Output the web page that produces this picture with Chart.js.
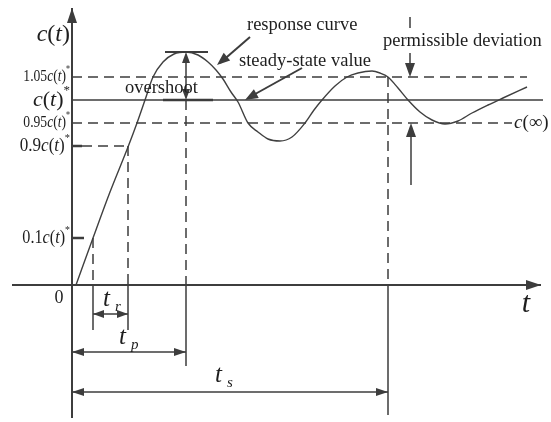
<!DOCTYPE html>
<html lang="en">
<head>
<meta charset="UTF-8">
<title>Step response</title>
<script src="https://cdn.jsdelivr.net/npm/chart.js"></script>
<style>
  html, body { margin: 0; padding: 0; background: #fff; }
  #wrap { width: 551px; height: 422px; }
</style>
</head>
<body>
<div id="wrap"><canvas id="stepChart" width="551" height="422"></canvas></div>
<script>
// response curve (t from the origin, c in diagram units, c* = 185)
const curveT = [4, 21, 38, 56, 65, 73, 81, 91, 102, 114, 126, 136, 144, 151, 159, 166, 176, 186, 196, 208, 220, 233, 242, 250, 263, 275, 286, 300, 308, 316, 326, 336, 348, 360, 373, 386, 400, 416, 431, 455];
const curveC = [0, 47, 93, 138, 162, 185, 208, 223, 231, 233, 230, 223, 215, 206, 193, 183, 162, 153, 146, 144, 148, 162, 175, 185, 199, 208, 212, 214, 212, 208, 197, 185, 173, 165, 161, 164, 172, 180, 187, 198];

// levels on the c axis and their labels
const levelValues = [208, 185, 162, 139, 47];
const levelCoef = ['1.05', '', '0.95', '0.9', '0.1'];

// characteristic times
const riseStart = 21;
const riseEnd = 56;
const peakTime = 114;
const settleTime = 316;
const peakValue = 233;

const ink = '#3d3d3d';
const textInk = '#1e1e1e';
const serif = '"Liberation Serif", "Times New Roman", serif';

function seg(x0, y0, x1, y1) { return [{x: x0, y: y0}, {x: x1, y: y1}]; }
function lineSet(data, extra) {
    return Object.assign({data: data, showLine: true, borderColor: ink, borderWidth: 1.5,
        pointRadius: 0, fill: false}, extra || {});
}
const dash = {borderDash: [10, 6], borderWidth: 1.5};

const steady = levelValues[1], upper = levelValues[0], lower = levelValues[2];

const datasets = [
    // axes
    lineSet(seg(-60, 0, 469, 0), {borderWidth: 2}),
    lineSet(seg(0, -133, 0, 277), {borderWidth: 2}),
    // steady-state and band
    lineSet(seg(0, steady, 471, steady)),
    lineSet(seg(91, steady, 141, steady), {borderWidth: 2.5}),
    lineSet(seg(0, upper, 455, upper), dash),
    lineSet(seg(0, lower, 440, lower), dash),
    lineSet(seg(10, levelValues[3], riseEnd, levelValues[3]), dash),
    lineSet(seg(0, levelValues[3], 10, levelValues[3]), {borderWidth: 2.5}),
    lineSet(seg(0, levelValues[4], 12, levelValues[4]), {borderWidth: 2.5}),
    // dashed verticals
    lineSet(seg(riseStart, levelValues[4], riseStart, 0), dash),
    lineSet(seg(riseEnd, levelValues[3], riseEnd, 0), dash),
    lineSet(seg(peakTime, steady, peakTime, 0), dash),
    lineSet(seg(settleTime, upper, settleTime, 0), dash),
    // extension lines under the t axis
    lineSet(seg(riseStart, 0, riseStart, -45)),
    lineSet(seg(riseEnd, 0, riseEnd, -45)),
    lineSet(seg(peakTime, 0, peakTime, -81)),
    lineSet(seg(settleTime, 0, settleTime, -130)),
    // peak mark and overshoot
    lineSet(seg(93, peakValue, 136, peakValue), {borderWidth: 2}),
    lineSet(seg(peakTime, peakValue - 4, peakTime, steady + 4)),
    // dimension lines
    lineSet(seg(riseStart, -29, riseEnd, -29)),
    lineSet(seg(0, -67, peakTime, -67)),
    lineSet(seg(0, -107, settleTime, -107)),
    // pointers
    lineSet(seg(178, 248, 148, 222), {borderWidth: 2}),
    lineSet(seg(230, 217, 176, 187), {borderWidth: 2}),
    // permissible deviation arrows
    lineSet(seg(338, 268, 338, 257)),
    lineSet(seg(338, 232, 338, 212)),
    lineSet(seg(339, 100, 339, 158)),
    // response curve
    {data: curveT.map((t, i) => ({x: t, y: curveC[i]})), showLine: true, borderColor: '#404040',
        borderWidth: 1.4, pointRadius: 0, fill: false, cubicInterpolationMode: 'monotone'}
];

// arrow heads: [fromX, fromY, tipX, tipY, length, halfWidth]
const heads = [
    [0, 200, 0, 277, 15, 5],
    [400, 0, 469, 0, 15, 5],
    [peakTime, steady, peakTime, peakValue, 11, 4],
    [peakTime, peakValue, peakTime, steady, 11, 4],
    [riseEnd, -29, riseStart, -29, 11, 4],
    [riseStart, -29, riseEnd, -29, 11, 4],
    [peakTime, -67, 0, -67, 12, 4],
    [0, -67, peakTime, -67, 12, 4],
    [settleTime, -107, 0, -107, 12, 4],
    [0, -107, settleTime, -107, 12, 4],
    [178, 248, 145, 220, 13, 5],
    [230, 217, 173, 185, 13, 5],
    [338, 232, 338, upper, 14, 5],
    [339, 100, 339, lower, 14, 5]
];

function rich(ctx, parts, x, y, align, sx) {
    // parts: [text, font, dy]
    ctx.save();
    let w = 0;
    parts.forEach(p => { ctx.font = p[1]; w += ctx.measureText(p[0]).width; });
    ctx.translate(x, y);
    ctx.scale(sx || 1, 1);
    let cx = align === 'right' ? -w : (align === 'center' ? -w / 2 : 0);
    ctx.textBaseline = 'middle';
    ctx.textAlign = 'left';
    ctx.fillStyle = textInk;
    parts.forEach(p => {
        ctx.font = p[1];
        ctx.fillText(p[0], cx, p[2] || 0);
        cx += ctx.measureText(p[0]).width;
    });
    ctx.restore();
}

function cLabel(coef, size) {
    const up = size + 'px ' + serif, it = 'italic ' + size + 'px ' + serif;
    const sup = Math.round(size * 0.6) + 'px ' + serif;
    const parts = [];
    if (coef) parts.push([coef, up]);
    parts.push(['c', it], ['(', up], ['t', it], [')', up], ['*', sup, -size * 0.45]);
    return parts;
}

const decorations = {
    id: 'decorations',
    afterDatasetsDraw(chart) {
        const ctx = chart.ctx, xs = chart.scales.x, ys = chart.scales.y;
        const px = v => xs.getPixelForValue(v), py = v => ys.getPixelForValue(v);
        ctx.save();
        ctx.fillStyle = ink;
        heads.forEach(h => {
            const x0 = px(h[0]), y0 = py(h[1]), x1 = px(h[2]), y1 = py(h[3]);
            const a = Math.atan2(y1 - y0, x1 - x0);
            const len = h[4], hw = h[5];
            const bx = x1 - len * Math.cos(a), by = y1 - len * Math.sin(a);
            ctx.beginPath();
            ctx.moveTo(x1, y1);
            ctx.lineTo(bx + hw * Math.sin(a), by - hw * Math.cos(a));
            ctx.lineTo(bx - hw * Math.sin(a), by + hw * Math.cos(a));
            ctx.closePath();
            ctx.fill();
        });
        ctx.restore();

        const ax = px(0) - 2;
        // axis titles
        rich(ctx, [['c', 'italic 24px ' + serif], ['(', '24px ' + serif], ['t', 'italic 24px ' + serif], [')', '24px ' + serif]], ax, 35, 'right');
        // level labels
        const sizes = [17, 22, 17, 18, 18];
        const squeeze = [0.8, 1, 0.8, 0.95, 0.9];
        levelValues.forEach((v, i) => {
            rich(ctx, cLabel(levelCoef[i], sizes[i]), ax, py(v), 'right', squeeze[i]);
        });
        rich(ctx, [['0', '18px ' + serif]], px(0) - 13, py(0) + 13, 'center');
        rich(ctx, [['t', 'italic 30px ' + serif]], 526, py(0) + 19, 'center');

        // time labels
        const tl = (sub, x, y) => {
            rich(ctx, [['t', 'italic 25px ' + serif]], x, y, 'left');
            rich(ctx, [[sub, 'italic 15px ' + serif]], x + 12, y + 8, 'left');
        };
        tl('r', px(riseStart) + 10, py(-14));
        tl('p', px(riseStart) + 26, py(-52));
        tl('s', px(143), py(-90));

        // annotations
        const f = '18.5px ' + serif;
        rich(ctx, [['response curve', f]], 247, 25, 'left');
        rich(ctx, [['steady-state value', f]], 239, 61, 'left');
        rich(ctx, [['overshoot', f]], 125, 88, 'left');
        rich(ctx, [['permissible deviation', f]], 383, 41, 'left');
        rich(ctx, [['c', 'italic 19px ' + serif], ['(\u221E)', '19px ' + serif]], 514, py(lower), 'left');
    }
};

new Chart(document.getElementById('stepChart').getContext('2d'), {
    type: 'scatter',
    data: {datasets: datasets},
    options: {
        responsive: false,
        animation: false,
        events: [],
        layout: {padding: 0},
        plugins: {legend: {display: false}, tooltip: {enabled: false}},
        scales: {
            x: {type: 'linear', display: false, min: -72, max: 479},
            y: {type: 'linear', display: false, min: -137, max: 285}
        }
    },
    plugins: [decorations]
});
</script>
</body>
</html>
